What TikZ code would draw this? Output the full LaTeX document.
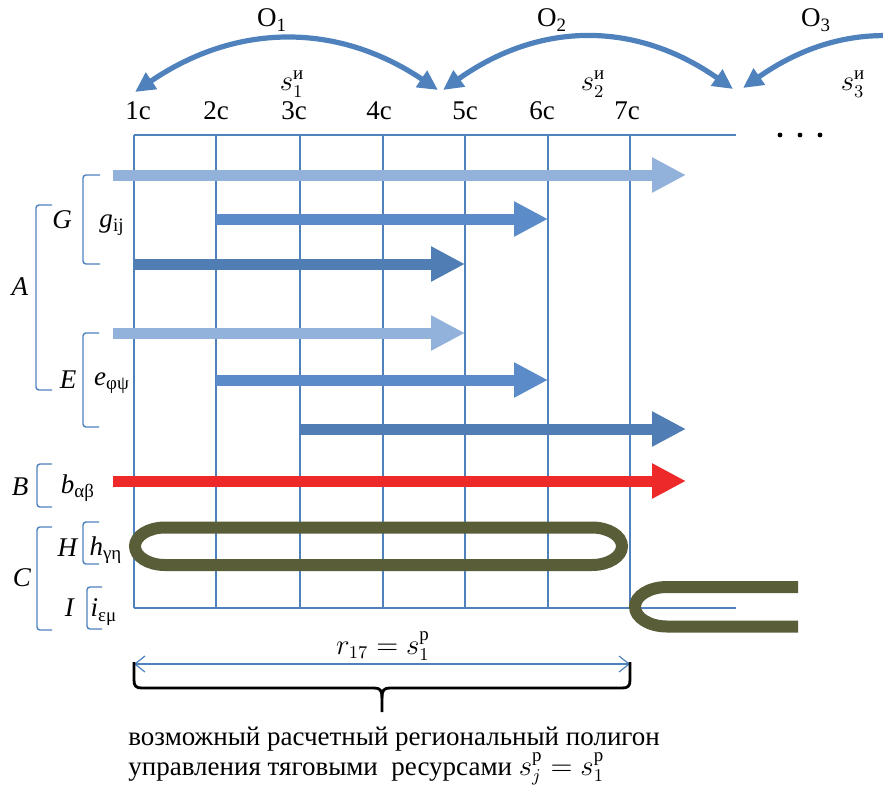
\documentclass[tikz,border=0pt]{standalone}
\usepackage{amsmath}
\usepackage{fontspec}
\setmainfont{Liberation Serif}
\usepackage{tikz}
\usetikzlibrary{positioning,arrows.meta}
\definecolor{gridblue}{RGB}{79,129,189}
\definecolor{lightbar}{RGB}{146,178,219}
\definecolor{midbar}{RGB}{91,140,201}
\definecolor{darkbar}{RGB}{79,125,180}
\definecolor{redbar}{RGB}{237,41,41}
\definecolor{olivebar}{RGB}{89,94,56}

\begin{document}
\begin{tikzpicture}[x=0.5pt,y=-0.5pt,
    lbl/.style={font=\fontsize{13.5}{16}\selectfont, inner sep=0pt},
    grd/.style={gridblue, line width=0.6pt},
    brk/.style={gridblue, line width=0.7pt, rounded corners=1.5pt},
    bar/.style={line width=5.5pt, -{Triangle[length=17pt,width=16.5pt]}},
    hop/.style={gridblue, line width=2.6pt},
    hoptip/.tip={Triangle[length=10pt,width=9.5pt]},
    loopbar/.style={olivebar, line width=6pt}
  ]
  \useasboundingbox (0,0) rectangle (883,788);
  \clip (0,0) rectangle (883,788);

  \foreach \i/\x in {1/138,2/216,3/294,4/379,5/465,6/542,7/627}
    \node[lbl] (c\i) at (\x,111) {\i с};
  \node[lbl] (s1) at (292,84) {$s_1^{\text{и}}$};
  \node[lbl] (s2) at (593,84) {$s_2^{\text{и}}$};
  \node[lbl] (s3) at (853,84) {$s_3^{\text{и}}$};
  \node[lbl] (o1) at (272,20) {O\textsubscript{1}};
  \node[lbl] (o2) at (552,20) {O\textsubscript{2}};
  \node[lbl] (o3) at (816,20) {O\textsubscript{3}};

  \coordinate (p0) at (135,92);
  \coordinate (p1) at (438,90);
  \coordinate (p2) at (443,90);
  \coordinate (p3) at (733,89);
  \coordinate (p4) at (743,88);
  \coordinate (p5) at (1033,88);
  \draw[hop, {hoptip}-{hoptip}] (p0) .. controls (236,23) and (337,22) .. (p1);
  \draw[hop, {hoptip}-{hoptip}] (p2) .. controls (540,21) and (636,21) .. (p3);
  \draw[hop, {hoptip}-] (p4) .. controls (840,20) and (936,20) .. (p5);

  \foreach \x in {134,216,300,383,465,548,630}
    \draw[grd] (\x,135) -- (\x,608);
  \draw[grd] (134,135) -- (736,135);
  \draw[grd] (134,608) -- (736,608);
  \foreach \x in {780,800,820}
    \fill (\x,135) circle (1.2pt);

  \draw[bar, lightbar] (113,175) -- (686,175);
  \draw[bar, midbar] (216,219) -- (548,219);
  \draw[bar, darkbar] (134,264) -- (465,264);
  \draw[bar, lightbar] (113,333) -- (465,333);
  \draw[bar, midbar] (216,380) -- (548,380);
  \draw[bar, darkbar] (300,429) -- (686,429);
  \draw[bar, redbar] (113,481) -- (686,481);

  \draw[loopbar] (165,527.5) -- (592,527.5)
    arc[start angle=-90, end angle=90, x radius=30, y radius=18.75]
    -- (165,565)
    arc[start angle=90, end angle=270, x radius=30, y radius=18.75] -- cycle;
  \draw[loopbar] (798,587) -- (667,587)
    arc[start angle=-90, end angle=-270, x radius=32, y radius=19.75]
    -- (798,626.5);

  \draw[brk] (52,205) -- (36,205) -- (36,390) -- (52,390);
  \draw[brk] (100,175) -- (83,175) -- (83,264) -- (100,264);
  \draw[brk] (99,333) -- (83,333) -- (83,427) -- (99,427);
  \draw[brk] (52,464) -- (37,464) -- (37,507) -- (52,507);
  \draw[brk] (52,527) -- (37,527) -- (37,630) -- (52,630);
  \draw[brk] (99,522) -- (83,522) -- (83,564) -- (99,564);
  \draw[brk] (102,587) -- (87,587) -- (87,629) -- (102,629);

  \node[lbl] (A) at (20,287) {\textit{A}};
  \node[lbl] (G) at (62,220) {\textit{G}};
  \node[lbl] (g) at (112,225) {\textit{g}\textsubscript{ij}};
  \node[lbl] (E) at (68,380) {\textit{E}};
  \node[lbl] (e) at (112,383) {\textit{e}\textsubscript{φψ}};
  \node[lbl] (B) at (20,487) {\textit{B}};
  \node[lbl] (b) at (78,488) {\textit{b}\textsubscript{αβ}};
  \node[lbl] (C) at (22,578) {\textit{C}};
  \node[lbl] (H) at (68,548) {\textit{H}};
  \node[lbl] (h) at (106,550) {\textit{h}\textsubscript{γη}};
  \node[lbl] (I) at (70,608) {\textit{I}};
  \node[lbl] (i) at (104,612) {\textit{i}\textsubscript{εμ}};

  \node[lbl] (r) at (383,646) {$r_{17} = s_1^{\text{р}}$};
  \coordinate (w0) at (134,664);
  \coordinate (w1) at (630,664);
  \draw[gridblue, line width=0.6pt, {Straight Barb[length=5pt,width=8pt]}-{Straight Barb[length=5pt,width=8pt]}] (w0) -- (w1);
  \draw[line width=1.4pt] (134,662) -- (134,680) .. controls (134,686) and (136,688) .. (142,688)
    -- (374,688) .. controls (380,688) and (382,690) .. (382,698) -- (382,712);
  \draw[line width=1.4pt] (630,662) -- (630,680) .. controls (630,686) and (628,688) .. (622,688)
    -- (390,688) .. controls (384,688) and (382,690) .. (382,698);
  \node[lbl, anchor=base west] (t1) at (128,745) {возможный расчетный региональный полигон};
  \node[lbl, anchor=base west] (t2) at (128,775) {управления тяговыми~ ресурсами $s_j^{\text{р}} = s_1^{\text{р}}$};
\end{tikzpicture}
\end{document}
